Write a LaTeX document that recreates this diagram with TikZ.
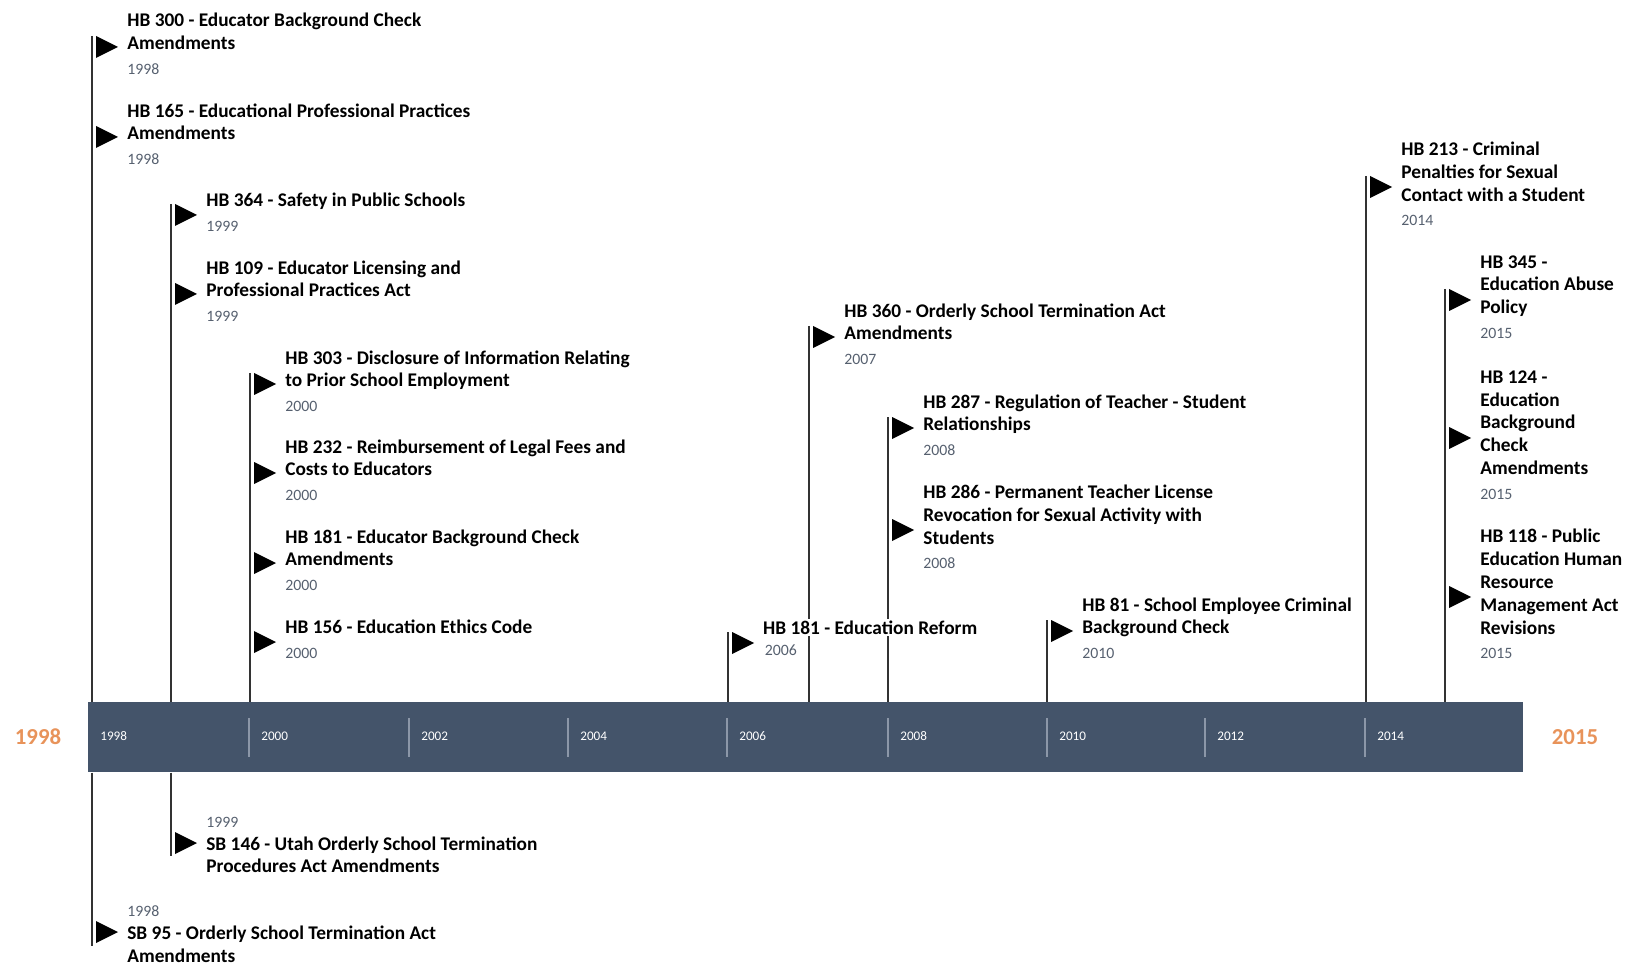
\documentclass[tikz,border=0pt]{standalone}
\usepackage{fontspec}
\setmainfont{Carlito}
\usetikzlibrary{positioning}
\definecolor{barblue}{HTML}{44546A}
\definecolor{yeargray}{HTML}{56606F}
\definecolor{endorange}{HTML}{E8935A}
\definecolor{ticklight}{HTML}{8C97A8}
\newcommand{\yr}[1]{{\fontsize{9}{11}\selectfont\mdseries\color{yeargray}#1}}
\newcommand{\blank}[1]{{\setlength{\fboxsep}{1pt}\colorbox{white}{#1}}}
\tikzset{
  entry/.style={anchor=west,align=left,inner sep=0pt,font=\fontsize{11}{13}\selectfont\bfseries},
  pole/.style={draw=black!80,line width=0.6pt},
  flag/.pic={\fill (4,-11) -- (26,0) -- (4,11) -- cycle;},
  ticklabel/.style={anchor=west,text=white,inner sep=0pt,font=\fontsize{7.5}{9}\selectfont},
  endyear/.style={text=endorange,font=\fontsize{13}{15}\selectfont\bfseries}
}

\begin{document}
\begin{tikzpicture}[x=0.02cm,y=-0.02cm]
\useasboundingbox (0,0) rectangle (1636,969);
% time bar
\node[fill=barblue,inner sep=0pt,minimum width=28.7cm,minimum height=1.4cm,anchor=north west] (bar) at (88,702) {};
\foreach \x in {249,409,568,727,888,1047,1205,1365}
  \draw[ticklight,line width=0.6pt] (\x,718) -- (\x,757);
\foreach \x/\lbl in {88/1998,249/2000,409/2002,568/2004,727/2006,888/2008,1047/2010,1205/2012,1365/2014}
  \node[ticklabel] (t\lbl) at (\x+12,736) {\lbl};
\node[endyear] (start) at (38,737) {1998};
\node[endyear] (end) at (1575,737) {2015};

% poles
\coordinate (p98) at (92,36);
\coordinate (p99) at (171,204);
\coordinate (p00) at (250,373);
\coordinate (p06) at (728,632);
\coordinate (p07) at (809,326);
\coordinate (p08) at (888,417);
\coordinate (p10) at (1047,620);
\coordinate (p14) at (1366,176);
\coordinate (p15) at (1445,289);
\coordinate (q98) at (92,946);
\coordinate (q99) at (171,856);
\foreach \p in {p98,p99,p00,p06,p07,p08,p10,p14,p15}
  \draw[pole] (\p) -- (\p |- bar.north);
\foreach \p in {q98,q99}
  \draw[pole] (bar.south -| \p) -- (\p);

% flags
\foreach \x/\y in {92/47,92/137,171/215,171/294,250/384,250/473,250/563,250/642,728/643,809/337,888/428,888/530,1047/631,1366/187,1445/300,1445/438,1445/597,171/843,92/932}
  \pic at (\x,\y) {flag};

% events above
\node[entry] (hb300) at (127,44) {HB 300 - Educator Background Check\\Amendments\\[1pt]\yr{1998}};
\node[entry] (hb165) at (127,134) {HB 165 - Educational Professional Practices\\Amendments\\[1pt]\yr{1998}};
\node[entry] (hb364) at (206,212) {HB 364 - Safety in Public Schools\\[1pt]\yr{1999}};
\node[entry] (hb109) at (206,291) {HB 109 - Educator Licensing and\\Professional Practices Act\\[1pt]\yr{1999}};
\node[entry] (hb303) at (285,381) {HB 303 - Disclosure of Information Relating\\to Prior School Employment\\[1pt]\yr{2000}};
\node[entry] (hb232) at (285,470) {HB 232 - Reimbursement of Legal Fees and\\Costs to Educators\\[1pt]\yr{2000}};
\node[entry] (hb181a) at (285,560) {HB 181 - Educator Background Check\\Amendments\\[1pt]\yr{2000}};
\node[entry] (hb156) at (285,639) {HB 156 - Education Ethics Code\\[1pt]\yr{2000}};
\node[entry] (hb181b) at (761,637) {\blank{HB 181 - Education Reform}\\[-1pt]\hspace{2pt}\yr{2006}};
\node[entry] (hb360) at (844,334) {HB 360 - Orderly School Termination Act\\Amendments\\[1pt]\yr{2007}};
\node[entry] (hb287) at (923,425) {HB 287 - Regulation of Teacher - Student\\Relationships\\[1pt]\yr{2008}};
\node[entry] (hb286) at (923,527) {HB 286 - Permanent Teacher License\\Revocation for Sexual Activity with\\Students\\[1pt]\yr{2008}};
\node[entry] (hb81) at (1082,628) {HB 81 - School Employee Criminal\\Background Check\\[1pt]\yr{2010}};
\node[entry] (hb213) at (1401,184) {HB 213 - Criminal\\Penalties for Sexual\\Contact with a Student\\[1pt]\yr{2014}};
\node[entry] (hb345) at (1480,297) {HB 345 -\\Education Abuse\\Policy\\[1pt]\yr{2015}};
\node[entry] (hb124) at (1480,435) {HB 124 -\\Education\\Background\\Check\\Amendments\\[1pt]\yr{2015}};
\node[entry] (hb118) at (1480,594) {HB 118 - Public\\Education Human\\Resource\\Management Act\\Revisions\\[1pt]\yr{2015}};

% events below
\node[entry] (sb146) at (206,845) {\yr{1999}\\SB 146 - Utah Orderly School Termination\\Procedures Act Amendments};
\node[entry] (sb95) at (127,934) {\yr{1998}\\SB 95 - Orderly School Termination Act\\Amendments};
\end{tikzpicture}
\end{document}
